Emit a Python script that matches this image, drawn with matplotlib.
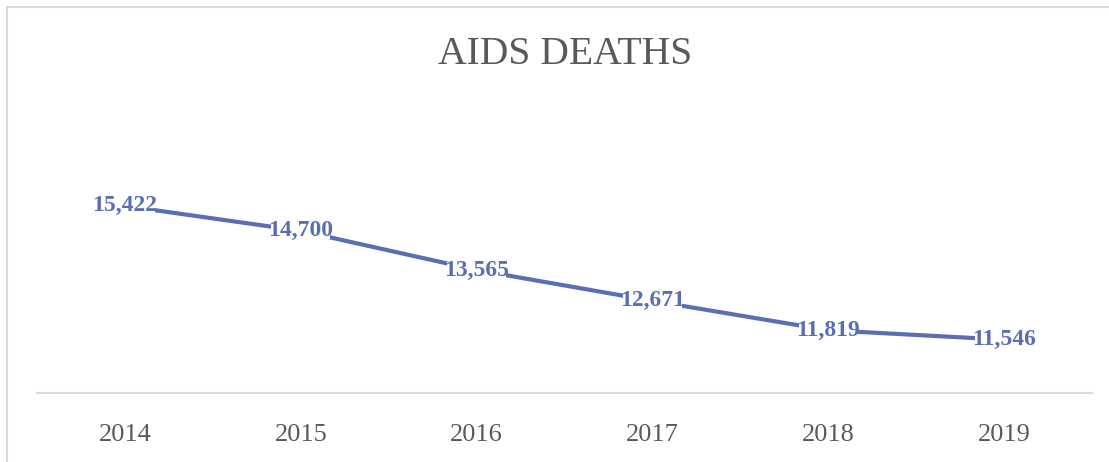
import matplotlib
matplotlib.use("Agg")
import matplotlib.pyplot as plt
from matplotlib.patches import Rectangle

# Yearly AIDS deaths
years = ["2014", "2015", "2016", "2017", "2018", "2019"]
deaths = [15422, 14700, 13565, 12671, 11819, 11546]

line_color = "#5a6eb4"
text_grey = "#595959"

plt.rcParams["font.family"] = ["Liberation Serif", "DejaVu Serif"]

fig = plt.figure(figsize=(11.09, 4.62), dpi=100)
ax = fig.add_axes([37 / 1109, 69 / 462, 1055 / 1109, 207 / 462])

x = list(range(len(years)))
ax.plot(x, deaths, color=line_color, lw=3, solid_capstyle="butt", zorder=2)

# data labels sit on the points, hiding the line behind them
for xi, v in zip(x, deaths):
    ax.text(xi, v, f"{v:,}", ha="center", va="center", fontsize=17,
            fontweight="bold", color=line_color, zorder=3,
            bbox=dict(boxstyle="square,pad=-0.12", fc="white", ec="none"))

ax.set_xlim(-0.5, len(years) - 0.5)
ax.set_ylim(10000, 16000)
ax.set_xticks(x)
ax.set_xticklabels(years, fontsize=19, color=text_grey)
ax.tick_params(axis="x", length=0, pad=22)
ax.set_yticks([])
for side in ["left", "right", "top"]:
    ax.spines[side].set_visible(False)
ax.spines["bottom"].set_color("#d9d9d9")
ax.spines["bottom"].set_linewidth(1.5)

fig.text(565 / 1109, 1 - 55 / 462, "AIDS DEATHS", ha="center", va="center",
         fontsize=28.5, color=text_grey)

# chart frame
fig.patches.append(Rectangle((6.5 / 1109, -0.1), 1.2, 1 - 7 / 462 + 0.1,
                             transform=fig.transFigure, fill=False,
                             ec="#d9d9d9", lw=1.5))

fig.savefig("out.png", dpi=100)
